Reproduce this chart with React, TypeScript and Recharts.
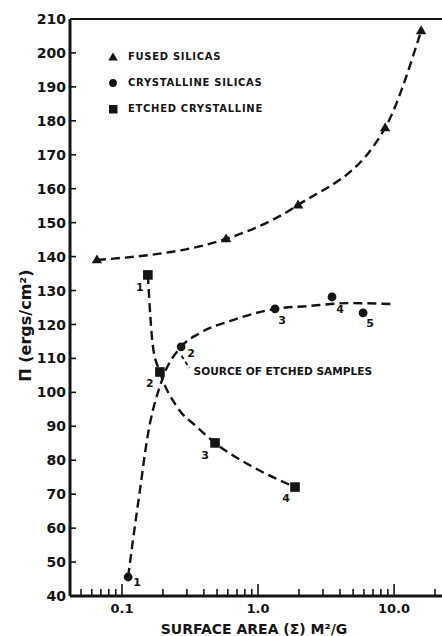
import React from 'react';
import {
  ComposedChart,
  Line,
  Scatter,
  XAxis,
  YAxis,
  ReferenceLine,
  ReferenceDot,
  Legend,
} from 'recharts';

const FONT = '"DejaVu Sans", Verdana, sans-serif';
const INK = '#151515';

// ---- series names ----
const seriesNames = ['FUSED SILICAS', 'CRYSTALLINE SILICAS', 'ETCHED CRYSTALLINE'];

// ---- measured points: surface area (m²/g) vs. Π (ergs/cm²) ----
const fusedArea = [0.0655, 0.582, 1.97, 8.59, 15.8];
const fusedTension = [139, 145.2, 155.2, 177.9, 206.5];

const crystArea = [0.111, 0.272, 1.334, 3.5, 5.92];
const crystTension = [45.6, 113.4, 124.6, 128.1, 123.4];
const crystLabels = ['1', '2', '3', '4', '5'];

const etchedArea = [0.155, 0.19, 0.483, 1.87];
const etchedTension = [134.6, 106.0, 85.1, 72.1];
const etchedLabels = ['1', '2', '3', '4'];

// ---- hand-drawn trend curves ----
const crystCurveArea = [0.111, 0.1205, 0.1356, 0.1527, 0.1968, 0.272, 0.375, 0.655, 1.334, 2.29, 4.75, 9.83];
const crystCurveTension = [45.6, 56.5, 71.2, 86.0, 103.6, 113.4, 117.5, 121.3, 124.6, 125.4, 126.3, 126.0];

const etchedCurveArea = [0.155, 0.169, 0.19, 0.254, 0.356, 0.483, 0.919, 1.87];
const etchedCurveTension = [134.6, 113.4, 106.0, 95.7, 89.8, 85.1, 78.0, 72.1];

// ---- annotation ----
const sourceNote = 'SOURCE OF ETCHED SAMPLES';
const sourceLeaderArea = [0.274, 0.312];
const sourceLeaderTension = [110.8, 107.2];
const sourceNoteAt = { area: 0.336, tension: 106.2 };

// ---- axes ----
const areaTicks = [
  0.05, 0.06, 0.07, 0.08, 0.09, 0.1,
  0.2, 0.3, 0.4, 0.5, 0.6, 0.7, 0.8, 0.9, 1,
  2, 3, 4, 5, 6, 7, 8, 9, 10, 20,
];
const majorAreaTicks = [0.1, 1, 10];
const majorAreaTickLabels = ['0.1', '1.0', '10.0'];
const tensionTicks = [40, 50, 60, 70, 80, 90, 100, 110, 120, 130, 140, 150, 160, 170, 180, 190, 200, 210];
const xTitle = 'SURFACE AREA (Σ) M²/G';
const yTitle = 'Π (ergs/cm²)';

const toPoints = (xs: number[], ys: number[], labels?: string[]) =>
  xs.map((x, i) => ({ x, y: ys[i], label: labels ? labels[i] : undefined }));

const fusedPoints = toPoints(fusedArea, fusedTension);
const crystPoints = toPoints(crystArea, crystTension, crystLabels);
const etchedPoints = toPoints(etchedArea, etchedTension, etchedLabels);
const crystCurve = toPoints(crystCurveArea, crystCurveTension);
const etchedCurve = toPoints(etchedCurveArea, etchedCurveTension);

// label placement around each marker (pixels)
const crystLabelOffsets = [[9, 5], [10, 6], [7, 11], [8, 12], [7, 10]];
const etchedLabelOffsets = [[-8, 12], [-10, 11], [-10, 12], [-9, 11]];

// ---- marker shapes ----
const triangle = (cx: number, cy: number, s: number) => {
  const h = s * 0.85;
  return `${cx},${cy - h * 0.62} ${cx + s / 2},${cy + h * 0.38} ${cx - s / 2},${cy + h * 0.38}`;
};

const TriangleShape = (p: any) => <polygon points={triangle(p.cx, p.cy, 10.5)} fill={INK} />;
const CircleShape = (p: any) => <circle cx={p.cx} cy={p.cy} r={4.4} fill={INK} />;
const SquareShape = (p: any) => (
  <rect x={p.cx - 4.8} y={p.cy - 4.8} width={9.6} height={9.6} fill={INK} />
);

// ---- ticks ----
const AreaTick = (props: any) => {
  const { x, y, payload } = props;
  const idx = majorAreaTicks.indexOf(payload.value);
  const major = idx >= 0;
  return (
    <g>
      <line x1={x} x2={x} y1={y} y2={y - (major ? 12 : 7)} stroke={INK} strokeWidth={1.6} />
      {major && (
        <text
          x={x}
          y={y + 17}
          textAnchor="middle"
          fontFamily={FONT}
          fontWeight="bold"
          fontSize={13}
          fill={INK}
        >
          {majorAreaTickLabels[idx]}
        </text>
      )}
    </g>
  );
};

const TensionTick = (props: any) => {
  const { x, y, payload } = props;
  return (
    <g>
      <line x1={x} x2={x + 6} y1={y} y2={y} stroke={INK} strokeWidth={1.6} />
      <text
        x={x - 4}
        y={y}
        dy="0.36em"
        textAnchor="end"
        fontFamily={FONT}
        fontWeight="bold"
        fontSize={14}
        fill={INK}
      >
        {payload.value}
      </text>
    </g>
  );
};

const XTitle = (p: any) => {
  const vb = p.viewBox;
  return (
    <text
      x={vb.x + vb.width / 2 - 2}
      y={vb.y + vb.height - 2}
      textAnchor="middle"
      fontFamily={FONT}
      fontWeight="bold"
      fontSize={14}
      fill={INK}
    >
      {xTitle}
    </text>
  );
};

const YTitle = (p: any) => {
  const vb = p.viewBox;
  const x = vb.x + 25;
  const y = vb.y + vb.height / 2 + 18;
  return (
    <text
      x={x}
      y={y}
      dy="0.35em"
      textAnchor="middle"
      transform={`rotate(-90 ${x} ${y})`}
      fontFamily={FONT}
      fontWeight="bold"
      fontSize={16}
      fill={INK}
    >
      {yTitle}
    </text>
  );
};

const numberLabel = (text: string, dx: number, dy: number) => (p: any) => {
  const vb = p.viewBox;
  const cx = vb.x + (vb.width || 0) / 2;
  const cy = vb.y + (vb.height || 0) / 2;
  return (
    <text
      x={cx + dx}
      y={cy + dy}
      dy="0.35em"
      textAnchor="middle"
      fontFamily={FONT}
      fontWeight="bold"
      fontSize={11}
      fill={INK}
    >
      {text}
    </text>
  );
};

const SourceNoteLabel = (p: any) => {
  const vb = p.viewBox;
  return (
    <text
      x={vb.x + (vb.width || 0) / 2}
      y={vb.y + (vb.height || 0) / 2}
      dy="0.35em"
      fontFamily={FONT}
      fontWeight="bold"
      fontSize={10.6}
      fill={INK}
    >
      {sourceNote}
    </text>
  );
};

// ---- legend ----
const legendIcons = [
  <polygon key="t" points={triangle(7, 7.5, 9.5)} fill={INK} />,
  <circle key="c" cx={7} cy={7} r={3.9} fill={INK} />,
  <rect key="s" x={3} y={3} width={8.5} height={8.5} fill={INK} />,
];

const LegendBox = () => (
  <div style={{ display: 'flex', flexDirection: 'column' }}>
    {seriesNames.map((name, i) => (
      <div key={name} style={{ display: 'flex', alignItems: 'center', height: 26 }}>
        <svg width={14} height={14} style={{ display: 'block' }}>
          {legendIcons[i]}
        </svg>
        <span
          style={{
            marginLeft: 8,
            fontFamily: FONT,
            fontWeight: 'bold',
            fontSize: 10,
            letterSpacing: 0.7,
            color: INK,
            lineHeight: 1,
            whiteSpace: 'nowrap',
          }}
        >
          {name}
        </span>
      </div>
    ))}
  </div>
);

const dashed = { stroke: INK, strokeWidth: 2.4, strokeDasharray: '9 5' };

export default function App() {
  return (
    <div
      style={{
        position: 'absolute',
        left: 0,
        top: 0,
        width: 442,
        height: 636,
        background: '#fff',
        overflow: 'hidden',
      }}
    >
      <ComposedChart width={442} height={636} margin={{ top: 19, right: 0, bottom: 0, left: 0 }}>
        <XAxis
          dataKey="x"
          type="number"
          scale="log"
          domain={[0.0415, 22.5]}
          allowDataOverflow
          ticks={areaTicks}
          interval={0}
          tick={<AreaTick />}
          tickLine={false}
          tickSize={0}
          tickMargin={0}
          height={40}
          axisLine={{ stroke: INK, strokeWidth: 3 }}
          label={{ content: XTitle }}
        />
        <YAxis
          dataKey="y"
          type="number"
          domain={[40, 210]}
          allowDataOverflow
          ticks={tensionTicks}
          interval={0}
          tick={<TensionTick />}
          tickLine={false}
          tickSize={0}
          tickMargin={0}
          width={70}
          axisLine={{ stroke: INK, strokeWidth: 3 }}
          label={{ content: YTitle }}
        />
        <ReferenceLine y={210} stroke={INK} strokeWidth={2} />

        <Line data={fusedPoints} dataKey="y" type="monotone" {...dashed} dot={false} activeDot={false} legendType="none" isAnimationActive={false} />
        <Line data={crystCurve} dataKey="y" type="monotone" {...dashed} dot={false} activeDot={false} legendType="none" isAnimationActive={false} />
        <Line data={etchedCurve} dataKey="y" type="monotone" {...dashed} dot={false} activeDot={false} legendType="none" isAnimationActive={false} />

        <Scatter name={seriesNames[0]} data={fusedPoints} shape={TriangleShape} isAnimationActive={false} />
        <Scatter name={seriesNames[1]} data={crystPoints} shape={CircleShape} isAnimationActive={false} />
        <Scatter name={seriesNames[2]} data={etchedPoints} shape={SquareShape} isAnimationActive={false} />

        {crystPoints.map((pt, i) => (
          <ReferenceDot
            key={`c${i}`}
            x={pt.x}
            y={pt.y}
            r={0}
            fill="none"
            stroke="none"
            label={numberLabel(pt.label as string, crystLabelOffsets[i][0], crystLabelOffsets[i][1])}
          />
        ))}
        {etchedPoints.map((pt, i) => (
          <ReferenceDot
            key={`e${i}`}
            x={pt.x}
            y={pt.y}
            r={0}
            fill="none"
            stroke="none"
            label={numberLabel(pt.label as string, etchedLabelOffsets[i][0], etchedLabelOffsets[i][1])}
          />
        ))}

        <ReferenceLine
          segment={[
            { x: sourceLeaderArea[0], y: sourceLeaderTension[0] },
            { x: sourceLeaderArea[1], y: sourceLeaderTension[1] },
          ]}
          stroke={INK}
          strokeWidth={1.8}
          strokeDasharray="4 3"
        />
        <ReferenceDot
          x={sourceNoteAt.area}
          y={sourceNoteAt.tension}
          r={0}
          fill="none"
          stroke="none"
          label={SourceNoteLabel}
        />

        <Legend
          layout="vertical"
          align="center"
          verticalAlign="middle"
          content={() => <LegendBox />}
          wrapperStyle={{ left: 106, top: 44, width: 'auto', height: 'auto' }}
        />
      </ComposedChart>
    </div>
  );
}
